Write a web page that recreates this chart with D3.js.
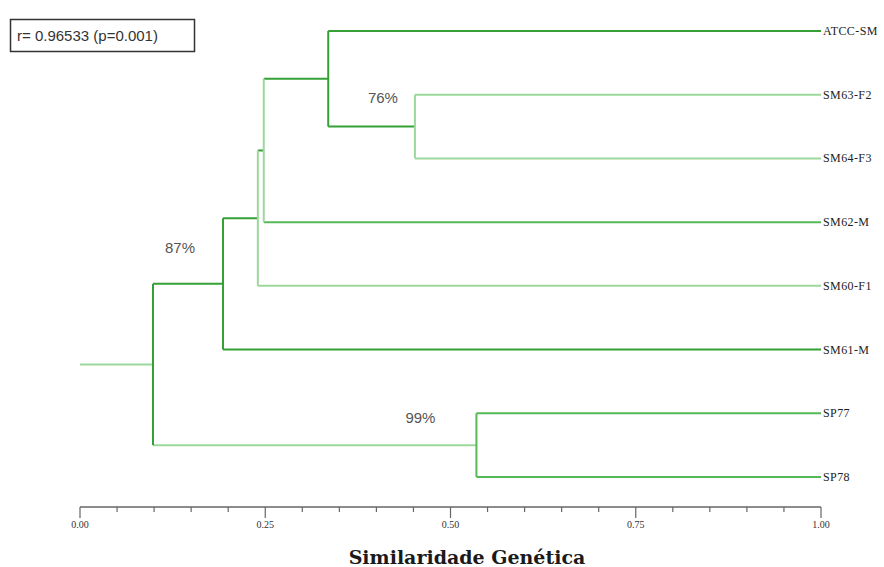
<!DOCTYPE html>
<html>
<head>
<meta charset="utf-8">
<script src="https://cdn.jsdelivr.net/npm/d3@7"></script>
<style>
  html, body { margin: 0; padding: 0; background: #fff; }
  svg { display: block; }
</style>
</head>
<body>
<svg id="chart" width="884" height="567"></svg>
<script>
// ---------------- DATA ----------------
const leaves = ["ATCC-SM", "SM63-F2", "SM64-F3", "SM62-M", "SM60-F1", "SM61-M", "SP77", "SP78"];
// merges: [childA, childB, similarity, nodeName]
const merges = [
  ["SM63-F2", "SM64-F3", 0.452, "n1"],
  ["ATCC-SM", "n1", 0.335, "n2"],
  ["n2", "SM62-M", 0.248, "n3"],
  ["n3", "SM60-F1", 0.240, "n4"],
  ["n4", "SM61-M", 0.193, "n5"],
  ["SP77", "SP78", 0.535, "n6"],
  ["n5", "n6", 0.0985, "root"]
];
const rootStart = 0.0;
const bootstrapNodes = ["n5", "n1", "n6"];
const bootstrapValues = ["87%", "76%", "99%"];
const majorTicks = [0.00, 0.25, 0.50, 0.75, 1.00];
const majorTickLabels = ["0.00", "0.25", "0.50", "0.75", "1.00"];
const correlationText = "r= 0.96533 (p=0.001)";
const axisTitle = "Similaridade Genética";

// ---------------- STYLES ----------------
const DARK = "#35a035", MID = "#55b955", LIGHT = "#9cd89c";
const hColor = {"ATCC-SM": DARK, "SM63-F2": LIGHT, "SM64-F3": LIGHT, "SM62-M": MID,
  "SM60-F1": LIGHT, "SM61-M": DARK, "SP77": MID, "SP78": MID,
  "n1": DARK, "n2": DARK, "n3": DARK, "n4": DARK, "n5": DARK, "n6": LIGHT, "root": LIGHT};
const vColor = {"n1": LIGHT, "n2": DARK, "n3": LIGHT, "n4": LIGHT, "n5": DARK, "n6": MID, "root": DARK};
const labelOffset = {"n5": [-43, -31], "n1": [-32, -24], "n6": [-56, -22]};

// ---------------- SCALES ----------------
const svg = d3.select("#chart");
const x = d3.scaleLinear().domain([0, 1]).range([80, 821]);
const y = d3.scalePoint().domain(leaves).range([31, 477]);

const pos = {};
leaves.forEach(l => pos[l] = {x: x(1), y: y(l)});
const parentOf = {};
merges.forEach(([a, b, s, n]) => {
  pos[n] = {x: x(s), y: (pos[a].y + pos[b].y) / 2, a, b};
  parentOf[a] = n; parentOf[b] = n;
});

const g = svg.append("g").attr("fill", "none").attr("stroke-width", 2);

Object.keys(pos).forEach(k => {
  const p = pos[k];
  const px = parentOf[k] ? pos[parentOf[k]].x : x(rootStart);
  g.append("line")
    .attr("x1", px).attr("x2", p.x).attr("y1", p.y).attr("y2", p.y)
    .attr("stroke", hColor[k]);
});
merges.forEach(([a, b, s, n]) => {
  g.append("line")
    .attr("x1", pos[n].x).attr("x2", pos[n].x)
    .attr("y1", pos[a].y).attr("y2", pos[b].y)
    .attr("stroke", vColor[n]);
});

// leaf labels
svg.append("g").selectAll("text").data(leaves).join("text")
  .attr("x", x(1) + 2).attr("y", d => y(d) + 4)
  .attr("font-family", "'Liberation Serif', 'Times New Roman', serif")
  .attr("font-size", 12).attr("fill", "#222")
  .attr("letter-spacing", 0.4)
  .text(d => d);

// bootstrap labels
bootstrapNodes.forEach((n, i) => {
  svg.append("text")
    .attr("x", pos[n].x + labelOffset[n][0]).attr("y", pos[n].y + labelOffset[n][1])
    .attr("text-anchor", "middle")
    .attr("font-family", "'Liberation Sans', Arial, sans-serif")
    .attr("font-size", 15).attr("fill", "#555")
    .text(bootstrapValues[i]);
});

// axis
const axisY = 507;
const ax = svg.append("g");
ax.append("line").attr("x1", x(0)).attr("x2", x(1)).attr("y1", axisY).attr("y2", axisY)
  .attr("stroke", "#666").attr("stroke-width", 1.5);
const minor = d3.range(0, 1.0001, 0.05);
ax.selectAll("line.tk").data(minor).join("line").attr("class", "tk")
  .attr("x1", d => x(d)).attr("x2", d => x(d))
  .attr("y1", axisY)
  .attr("y2", d => (Math.abs(d * 4 - Math.round(d * 4)) < 1e-6) ? axisY + 11 : axisY + 5)
  .attr("stroke", "#666").attr("stroke-width", 1.2);
ax.selectAll("text").data(majorTicks).join("text")
  .attr("x", d => x(d)).attr("y", axisY + 21)
  .attr("text-anchor", "middle")
  .attr("font-family", "'Liberation Serif', serif")
  .attr("font-size", 10).attr("fill", "#333")
  .text((d, i) => majorTickLabels[i]);

svg.append("text")
  .attr("x", 467).attr("y", 564)
  .attr("text-anchor", "middle")
  .attr("font-family", "'DejaVu Serif', 'Liberation Serif', serif")
  .attr("font-weight", "bold").attr("font-size", 19).attr("fill", "#1a1a1a")
  .text(axisTitle);

// correlation box
svg.append("rect").attr("x", 10.5).attr("y", 19.5).attr("width", 184).attr("height", 32)
  .attr("fill", "#fff").attr("stroke", "#333").attr("stroke-width", 1.5);
svg.append("text").attr("x", 17).attr("y", 41)
  .attr("font-family", "'Liberation Sans', Arial, sans-serif")
  .attr("font-size", 15).attr("fill", "#333")
  .text(correlationText);
</script>
</body>
</html>
